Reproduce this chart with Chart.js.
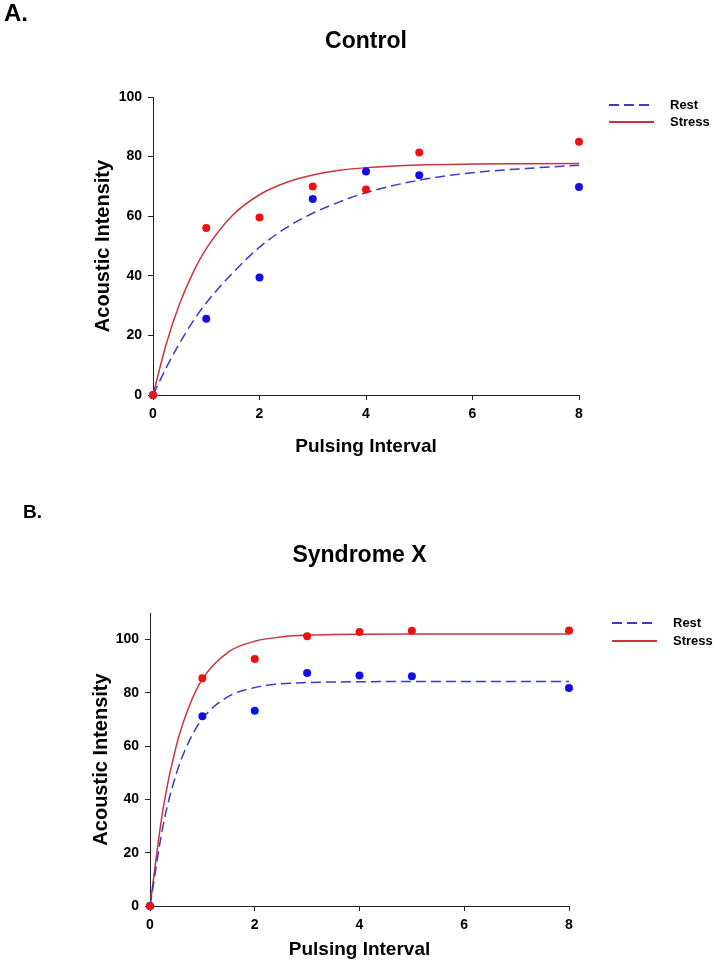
<!DOCTYPE html>
<html>
<head>
<meta charset="utf-8">
<title>Acoustic Intensity vs Pulsing Interval</title>
<script src="https://cdn.jsdelivr.net/npm/chart.js@4.4.1/dist/chart.umd.min.js"></script>
<style>
  body { margin: 0; background: #fff; }
  canvas { display: block; }
</style>
</head>
<body>
<canvas id="chartA" width="724" height="480"></canvas>
<canvas id="chartB" width="724" height="493"></canvas>
<script>
// pulsing intervals where the measurements were taken
const pulsingIntervals = [0, 1, 2, 3, 4, 5, 8];

// panel A - control group
const controlRest = [0, 25.6, 39.4, 65.8, 75.0, 73.7, 69.8];
const controlStress = [0, 56.0, 59.6, 70.0, 69.0, 81.4, 85.0];

// panel B - syndrome X group
const syndromeRest = [0, 71.2, 73.3, 87.5, 86.5, 86.3, 81.8];
const syndromeStress = [0, 85.5, 92.7, 101.3, 102.9, 103.3, 103.4];

// fitted curves at these intervals
const curveIntervals = [0, 0.25, 0.5, 0.75, 1, 1.5, 2, 2.5, 3, 3.5, 4, 5, 6, 7, 8];
const controlRestFit = [0, 9.2, 17.4, 24.7, 30.9, 41.0, 49.6, 56.1, 61.0, 64.8, 67.9, 72.1, 74.6, 76.0, 77.1];
const controlStressFit = [0, 17.2, 30.6, 41.0, 49.1, 60.4, 67.2, 71.3, 73.8, 75.4, 76.3, 77.2, 77.5, 77.6, 77.7];
const syndromeRestFit = [0, 30.2, 49.5, 62.0, 70.3, 78.7, 82.0, 83.4, 83.9, 84.1, 84.2, 84.3, 84.3, 84.3, 84.3];
const syndromeStressFit = [0, 36.6, 60.0, 75.1, 85.2, 95.4, 99.4, 101.0, 101.7, 101.9, 102.0, 102.1, 102.1, 102.1, 102.1];

// tick labels
const xTicks = [0, 2, 4, 6, 8];
const yTicks = [0, 20, 40, 60, 80, 100];

const fontFamily = '"Liberation Sans", Arial, sans-serif';
const redDot = '#ee1111';
const blueDot = '#1010e6';
const redLine = '#cc3340';
const blueLine = '#3a3ac8';

function toPoints(xs, ys) {
    return xs.map((x, i) => ({ x: x, y: ys[i] }));
}

// panel letter, title and legend drawn on top of the chart
const panelDecor = {
    id: 'panelDecor',
    afterDraw(chart, args, opts) {
        const ctx = chart.ctx;
        const area = chart.chartArea;
        ctx.save();
        ctx.fillStyle = '#000';
        ctx.textBaseline = 'middle';

        ctx.textAlign = 'left';
        ctx.font = 'bold ' + opts.letterSize + 'px ' + fontFamily;
        ctx.fillText(opts.letter, opts.letterX, opts.letterY);

        ctx.textAlign = 'center';
        ctx.font = 'bold 23px ' + fontFamily;
        ctx.fillText(opts.title, (area.left + area.right) / 2, opts.titleY);

        // one legend row per fitted curve
        ctx.textAlign = 'left';
        ctx.font = 'bold 13px ' + fontFamily;
        const curves = chart.data.datasets.filter(d => d.showLine);
        curves.forEach((d, i) => {
            const y = opts.legendY + i * opts.legendGap;
            ctx.strokeStyle = d.borderColor;
            ctx.lineWidth = 2;
            ctx.setLineDash(d.borderDash || []);
            ctx.beginPath();
            ctx.moveTo(opts.legendX, y);
            ctx.lineTo(opts.legendX + 45, y);
            ctx.stroke();
            ctx.fillText(d.label, opts.legendX + 61, y);
        });
        ctx.restore();
    }
};

function axisOptions(min, max, ticks, size, titleText, titleSize) {
    return {
        type: 'linear',
        min: min,
        max: max,
        afterBuildTicks: function (scale) {
            scale.ticks = ticks.map(v => ({ value: v }));
        },
        afterFit: function (scale) {
            if (scale.isHorizontal()) {
                scale.height = size;
            } else {
                scale.width = size;
            }
        },
        grid: { display: true, drawOnChartArea: false, drawTicks: true, tickLength: 5, color: '#222', lineWidth: 1 },
        border: { display: true, color: '#222', width: 1 },
        ticks: { color: '#000', padding: 6, maxRotation: 0, font: { family: fontFamily, size: 14, weight: 'bold' } },
        title: { display: true, text: titleText, color: '#000', padding: 0, font: { family: fontFamily, size: titleSize, weight: 'bold' } }
    };
}

function drawPanel(canvasId, rest, stress, restFit, stressFit, yMax, layout, decor) {
    const ctx = document.getElementById(canvasId).getContext('2d');

    new Chart(ctx, {
        type: 'scatter',
        data: {
            datasets: [
                { label: 'Stress points', data: toPoints(pulsingIntervals, stress), backgroundColor: redDot, borderWidth: 0, pointRadius: 4, clip: false },
                { label: 'Rest points', data: toPoints(pulsingIntervals, rest), backgroundColor: blueDot, borderWidth: 0, pointRadius: 4, clip: false },
                { label: 'Rest', data: toPoints(curveIntervals, restFit), showLine: true, borderColor: blueLine, borderWidth: 1.5, borderDash: [10, 5], pointRadius: 0, cubicInterpolationMode: 'monotone', clip: false },
                { label: 'Stress', data: toPoints(curveIntervals, stressFit), showLine: true, borderColor: redLine, borderWidth: 1.5, pointRadius: 0, cubicInterpolationMode: 'monotone', clip: false }
            ]
        },
        options: {
            responsive: false,
            animation: false,
            layout: { padding: layout.padding },
            scales: {
                x: axisOptions(0, 8, xTicks, layout.xHeight, 'Pulsing Interval', 19),
                y: axisOptions(0, yMax, yTicks, layout.yWidth, 'Acoustic Intensity', 20)
            },
            plugins: {
                legend: { display: false },
                tooltip: { enabled: false },
                panelDecor: decor
            }
        },
        plugins: [panelDecor]
    });
}

drawPanel('chartA', controlRest, controlStress, controlRestFit, controlStressFit, 100,
    { padding: { left: 91, right: 145, top: 97, bottom: 22 }, xHeight: 63, yWidth: 62 },
    { letter: 'A.', letterSize: 24, letterX: 4, letterY: 14, title: 'Control', titleY: 42, legendX: 609, legendY: 105, legendGap: 17 });

drawPanel('chartB', syndromeRest, syndromeStress, syndromeRestFit, syndromeStressFit, 110,
    { padding: { left: 89, right: 155, top: 133, bottom: 12 }, xHeight: 55, yWidth: 61 },
    { letter: 'B.', letterSize: 19, letterX: 23, letterY: 33, title: 'Syndrome X', titleY: 76, legendX: 612, legendY: 143, legendGap: 18 });
</script>
</body>
</html>
